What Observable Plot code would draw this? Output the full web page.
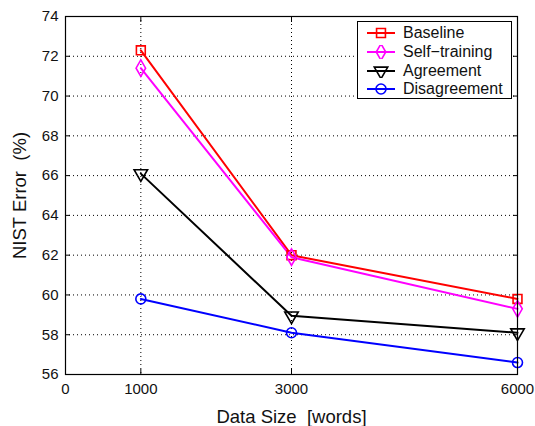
<!DOCTYPE html>
<html>
<head>
<meta charset="utf-8">
<script src="https://cdn.jsdelivr.net/npm/d3@7"></script>
<script src="https://cdn.jsdelivr.net/npm/@observablehq/plot@0.6"></script>
<style>
  html, body { margin: 0; padding: 0; background: #fff; }
  #wrap { position: relative; width: 535px; height: 426px; font-family: "Liberation Sans", Arial, sans-serif; }
  #wrap svg { font-family: "Liberation Sans", Arial, sans-serif; }
  g[aria-label="y-axis tick label"] text, g[aria-label="x-axis tick label"] text { font-size: 15px; fill: #111; }
  g[aria-label="y-axis label"] text, g[aria-label="x-axis label"] text { font-size: 18.5px; white-space: pre; fill: #111; }
  #legend { position: absolute; left: 357px; top: 21px; width: 155px; height: 78px; border: 1.3px solid #000; background: #fff; box-sizing: border-box; padding-top: 2px; }
  .entry { display: flex; align-items: center; height: 18.7px; font-size: 16px; color: #111; }
  .entry svg { margin-left: 9px; margin-right: 8px; }
</style>
</head>
<body>
<div id="wrap"></div>
<script>
const sizes = [1000, 3000, 6000];
const seriesNames = ["Baseline", "Self-training", "Agreement", "Disagreement"];
const baseline = [72.3, 62.0, 59.8];
const selfTraining = [71.4, 61.9, 59.3];
const agreement = [66.1, 58.95, 58.1];
const disagreement = [59.8, 58.1, 56.6];
const colors = ["#ff0000", "#ff00ff", "#000000", "#0000ff"];
const symbols = ["square", "diamond", "triangle", "circle"];
const rotations = [0, 0, 180, 0];
const xTicks = [0, 1000, 3000, 6000];
const yTicks = [56, 58, 60, 62, 64, 66, 68, 70, 72, 74];
const xGrid = [1000, 3000];
const yGrid = [58, 60, 62, 64, 66, 68, 70, 72];

const allValues = [baseline, selfTraining, agreement, disagreement];
const rows = seriesNames.flatMap((s, i) =>
  sizes.map((x, j) => ({series: s, x, y: allValues[i][j], rot: rotations[i]})));

const grid = {stroke: "#000", strokeOpacity: 1, strokeWidth: 1, strokeDasharray: "1,3"};
const inward = {tickSize: -5, tickFormat: () => "", label: null};

const chart = Plot.plot({
  width: 535,
  height: 426,
  marginLeft: 65,
  marginRight: 18,
  marginTop: 16,
  marginBottom: 52,
  x: {domain: [0, 6000]},
  y: {domain: [56, 74]},
  color: {domain: seriesNames, range: colors},
  symbol: {domain: seriesNames, range: symbols},
  marks: [
    Plot.gridY(yGrid, grid),
    Plot.gridX(xGrid, grid),
    Plot.axisY(yTicks, {anchor: "left", tickSize: 0, tickPadding: 7, tickFormat: d => String(d), label: "NIST Error  (%)", labelAnchor: "center", labelOffset: 53, labelArrow: "none"}),
    Plot.axisY(yTicks, {anchor: "right", ...inward}),
    Plot.axisY(yTicks, {anchor: "left", ...inward}),
    Plot.axisX(xTicks, {anchor: "bottom", tickSize: 0, tickPadding: 9, tickFormat: d => String(d), label: "Data Size  [words]", labelAnchor: "center", labelOffset: 48, labelArrow: "none"}),
    Plot.axisX(xTicks, {anchor: "bottom", ...inward}),
    Plot.axisX(xTicks, {anchor: "top", ...inward}),
    Plot.line(rows, {x: "x", y: "y", z: "series", stroke: "series", strokeWidth: 2}),
    Plot.dot(rows, {x: "x", y: "y", symbol: "series", stroke: "series", fill: "none", strokeWidth: 1.6, r: 5, rotate: "rot"}),
    Plot.frame({stroke: "#000", strokeWidth: 1.2})
  ]
});
document.getElementById("wrap").appendChild(chart);

// Legend
const legend = document.createElement("div");
legend.id = "legend";
seriesNames.forEach((name, i) => {
  const entry = document.createElement("div");
  entry.className = "entry";
  const ns = "http://www.w3.org/2000/svg";
  const svg = document.createElementNS(ns, "svg");
  svg.setAttribute("width", 28);
  svg.setAttribute("height", 14);
  const line = document.createElementNS(ns, "line");
  line.setAttribute("x1", 0); line.setAttribute("x2", 28);
  line.setAttribute("y1", 7); line.setAttribute("y2", 7);
  line.setAttribute("stroke", colors[i]); line.setAttribute("stroke-width", 2);
  svg.appendChild(line);
  const typeMap = {square: d3.symbolSquare, diamond: d3.symbolDiamond, triangle: d3.symbolTriangle, circle: d3.symbolCircle};
  const path = document.createElementNS(ns, "path");
  path.setAttribute("d", d3.symbol(typeMap[symbols[i]], 25 * Math.PI)());
  path.setAttribute("transform", `translate(14,7) rotate(${rotations[i]})`);
  path.setAttribute("fill", "none");
  path.setAttribute("stroke", colors[i]);
  path.setAttribute("stroke-width", 1.6);
  svg.appendChild(path);
  entry.appendChild(svg);
  const label = document.createElement("span");
  label.textContent = name.replace("-", "\u2212");
  entry.appendChild(label);
  legend.appendChild(entry);
});
document.getElementById("wrap").appendChild(legend);
</script>
</body>
</html>
